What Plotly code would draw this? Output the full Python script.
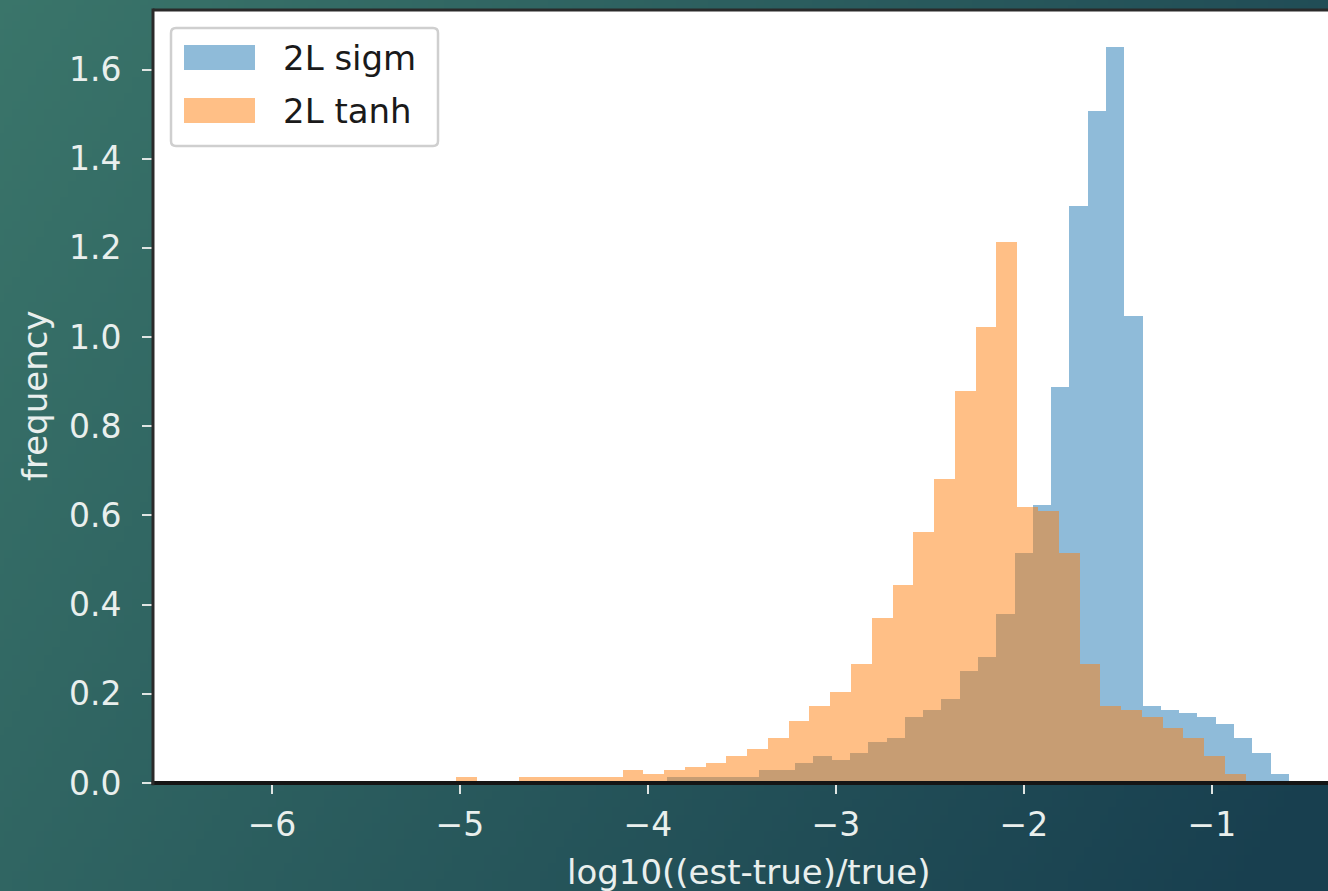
import base64
import struct
import zlib

import plotly.graph_objects as go

# ---------------- data ----------------
x_tick_values = [-6, -5, -4, -3, -2, -1]
x_tick_labels = ["−6", "−5", "−4", "−3", "−2", "−1"]
y_tick_values = [0.0, 0.2, 0.4, 0.6, 0.8, 1.0, 1.2, 1.4, 1.6]
y_tick_labels = ["0.0", "0.2", "0.4", "0.6", "0.8", "1.0", "1.2", "1.4", "1.6"]

series_names = ["2L sigm", "2L tanh"]
x_title = "log10((est-true)/true)"
y_title = "frequency"

# 2L sigm histogram: 50 bins
sigm_first_edge = -5.455
sigm_bin_width = 0.0973
sigm_density = [
    0, 0, 0, 0, 0, 0, 0, 0, 0, 0,
    0, 0, 0, 0, 0, 0, 0.014, 0.014, 0.014, 0.014,
    0.014, 0.029, 0.029, 0.045, 0.060, 0.051, 0.067, 0.092, 0.101, 0.148,
    0.163, 0.188, 0.251, 0.282, 0.378, 0.515, 0.624, 0.888, 1.293, 1.508,
    1.651, 1.047, 0.172, 0.163, 0.157, 0.147, 0.132, 0.101, 0.067, 0.020,
]

# 2L tanh histogram: 50 bins
tanh_first_edge = -6.345
tanh_bin_width = 0.1105
tanh_density = [
    0, 0, 0, 0, 0, 0, 0, 0, 0, 0,
    0, 0, 0.014, 0, 0, 0.014, 0.014, 0.014, 0.014, 0.014,
    0.029, 0.020, 0.029, 0.036, 0.045, 0.060, 0.076, 0.101, 0.139, 0.172,
    0.204, 0.266, 0.371, 0.443, 0.562, 0.681, 0.879, 1.023, 1.213, 0.618,
    0.609, 0.515, 0.266, 0.172, 0.163, 0.148, 0.123, 0.101, 0.060, 0.020,
]

# ---------------- layout constants ----------------
W, H = 1328, 891
ML, MR, MT, MB = 153, 0, 10, 108
PW, PH = W - ML - MR, H - MT - MB
X_RANGE = [-6.633, -0.382]
Y_RANGE = [0, 1.05 * max(max(sigm_density), max(tanh_density))]

FONT = "DejaVu Sans"
LIGHT = "#e9efed"
SPINE = "#151515"
BLUE = "#1f77b4"
ORANGE = "#ff7f0e"


def px_x(p):
    return (p - ML) / PW


def px_y(p):
    return (H - MB - p) / PH


def gradient_png(w, h):
    c0 = (58, 117, 106)
    c1 = (24, 63, 79)
    rows = []
    for j in range(h):
        v = j / (h - 1)
        row = bytearray([0])
        for i in range(w):
            u = i / (w - 1)
            t = min(1.0, max(0.0, 0.74 * u + 0.30 * v))
            row += bytes(int(round(a + (b - a) * t)) for a, b in zip(c0, c1))
        rows.append(bytes(row))
    raw = b"".join(rows)

    def chunk(tag, data):
        return (struct.pack(">I", len(data)) + tag + data
                + struct.pack(">I", zlib.crc32(tag + data) & 0xFFFFFFFF))

    png = (b"\x89PNG\r\n\x1a\n"
           + chunk(b"IHDR", struct.pack(">IIBBBBB", w, h, 8, 2, 0, 0, 0))
           + chunk(b"IDAT", zlib.compress(raw, 9))
           + chunk(b"IEND", b""))
    return "data:image/png;base64," + base64.b64encode(png).decode()


def centers(first_edge, width, n):
    return [first_edge + width * (k + 0.5) for k in range(n)]


fig = go.Figure()
fig.add_trace(go.Bar(
    x=centers(sigm_first_edge, sigm_bin_width, len(sigm_density)),
    y=sigm_density, width=sigm_bin_width, name=series_names[0],
    marker=dict(color=BLUE, opacity=0.5, line=dict(width=0)),
))
fig.add_trace(go.Bar(
    x=centers(tanh_first_edge, tanh_bin_width, len(tanh_density)),
    y=tanh_density, width=tanh_bin_width, name=series_names[1],
    marker=dict(color=ORANGE, opacity=0.5, line=dict(width=0)),
))

shapes = [
    # white axes background above the gradient image
    dict(type="rect", xref="paper", yref="paper", x0=0, x1=1.05, y0=0, y1=1,
         fillcolor="white", line=dict(width=0), layer="below"),
    # spines
    dict(type="line", xref="paper", yref="paper", x0=px_x(151.5), x1=1.05, y0=0, y1=0,
         line=dict(color=SPINE, width=4), layer="above"),
    dict(type="line", xref="paper", yref="paper", x0=0, x1=0, y0=-0.003, y1=1.002,
         line=dict(color="#2a2a2a", width=3), layer="above"),
    dict(type="line", xref="paper", yref="paper", x0=0, x1=1.05, y0=1, y1=1,
         line=dict(color="#2a2a2a", width=3), layer="above"),
]

# legend (drawn manually to match patch geometry)
lx0, lx1, ly0, ly1, r = 171, 438, 28, 146, 5
path = (f"M {px_x(lx0 + r)} {px_y(ly0)} L {px_x(lx1 - r)} {px_y(ly0)} "
        f"Q {px_x(lx1)} {px_y(ly0)} {px_x(lx1)} {px_y(ly0 + r)} "
        f"L {px_x(lx1)} {px_y(ly1 - r)} Q {px_x(lx1)} {px_y(ly1)} {px_x(lx1 - r)} {px_y(ly1)} "
        f"L {px_x(lx0 + r)} {px_y(ly1)} Q {px_x(lx0)} {px_y(ly1)} {px_x(lx0)} {px_y(ly1 - r)} "
        f"L {px_x(lx0)} {px_y(ly0 + r)} Q {px_x(lx0)} {px_y(ly0)} {px_x(lx0 + r)} {px_y(ly0)} Z")
shapes.append(dict(type="path", xref="paper", yref="paper", path=path,
                   fillcolor="rgba(255,255,255,0.9)",
                   line=dict(color="#cfcfcf", width=2.5), layer="above"))
legend_rows = [(45, 70, BLUE), (98, 123, ORANGE)]
for (y0, y1, col) in legend_rows:
    shapes.append(dict(type="rect", xref="paper", yref="paper",
                       x0=px_x(184), x1=px_x(255), y0=px_y(y1), y1=px_y(y0),
                       fillcolor=col, opacity=0.5, line=dict(width=0), layer="above"))

annotations = []
for name, (y0, y1, _) in zip(series_names, legend_rows):
    annotations.append(dict(
        text=name, xref="paper", yref="paper", x=px_x(281), y=px_y((y0 + y1) / 2 + 1),
        xanchor="left", yanchor="middle", showarrow=False,
        font=dict(family=FONT, size=34, color="#1a1a1a"),
    ))
annotations.append(dict(
    text=x_title, xref="paper", yref="paper", x=px_x(748), y=px_y(872),
    xanchor="center", yanchor="middle", showarrow=False,
    font=dict(family=FONT, size=34, color=LIGHT),
))
annotations.append(dict(
    text=y_title, xref="paper", yref="paper", x=px_x(35), y=px_y(396),
    xanchor="center", yanchor="middle", showarrow=False, textangle=-90,
    font=dict(family=FONT, size=34, color=LIGHT),
))

fig.update_layout(
    width=W, height=H, autosize=False,
    margin=dict(l=ML, r=MR, t=MT, b=MB, pad=0),
    paper_bgcolor="#2b5f63", plot_bgcolor="white",
    barmode="overlay", bargap=0, showlegend=False,
    font=dict(family=FONT, size=34, color=LIGHT),
    images=[dict(source=gradient_png(166, 111), xref="paper", yref="paper",
                 x=-ML / PW, y=1 + MT / PH, sizex=W / PW, sizey=H / PH,
                 xanchor="left", yanchor="top", sizing="stretch", layer="below")],
    shapes=shapes,
    annotations=annotations,
    xaxis=dict(range=X_RANGE, tickvals=x_tick_values, ticktext=x_tick_labels,
               ticks="outside", ticklen=10, tickwidth=2, tickcolor="#dfe5e3",
               showgrid=False, zeroline=False, showline=False,
               tickfont=dict(family=FONT, size=33, color=LIGHT), ticklabelstandoff=2),
    yaxis=dict(range=Y_RANGE, tickvals=y_tick_values, ticktext=y_tick_labels,
               ticks="outside", ticklen=10, tickwidth=2, tickcolor="#dfe5e3",
               showgrid=False, zeroline=False, showline=False,
               tickfont=dict(family=FONT, size=33, color=LIGHT), ticklabelstandoff=14),
)

fig.write_html("out.html")
